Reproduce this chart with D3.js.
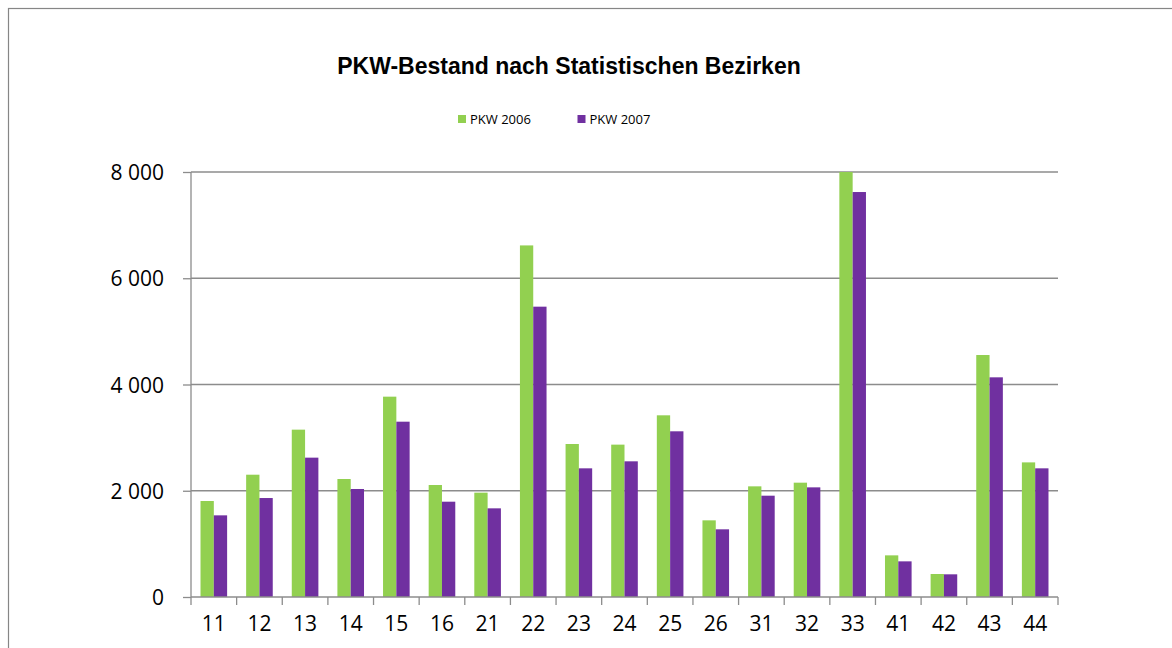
<!DOCTYPE html>
<html>
<head>
<meta charset="utf-8">
<script src="https://cdn.jsdelivr.net/npm/d3@7"></script>
<style>
  body { margin: 0; background: #fff; }
  svg { display: block; }
  .tick text { font-family: "Open Sans", sans-serif; fill: #000; }
</style>
</head>
<body>
<svg id="svg1" width="1172" height="648"></svg>
<script>
var bezirke = ["11", "12", "13", "14", "15", "16", "21", "22", "23", "24", "25", "26", "31", "32", "33", "41", "42", "43", "44"];
var pkw2006 = [1807, 2302, 3150, 2221, 3771, 2108, 1964, 6618, 2880, 2868, 3420, 1443, 2083, 2152, 8000, 784, 433, 4555, 2534];
var pkw2007 = [1537, 1863, 2623, 2033, 3300, 1794, 1669, 5465, 2422, 2554, 3119, 1274, 1907, 2064, 7623, 671, 427, 4135, 2422];
var seriesNames = ["PKW 2006", "PKW 2007"];
var yTicks = [0, 2000, 4000, 6000, 8000];

var colors = { "PKW 2006": "#92D050", "PKW 2007": "#7030A0" };

var svg = d3.select("#svg1");

// outer chart border
svg.append("rect")
    .attr("x", 8.5).attr("y", 8.5)
    .attr("width", 1180).attr("height", 700)
    .attr("fill", "none")
    .attr("stroke", "#868686")
    .attr("stroke-width", 1.2);

// plot area (note: "top" is reserved on window, so use other names)
var plotLeft = 191, plotRight = 1058, plotTop = 172, plotBottom = 597;

var x0 = d3.scaleBand().domain(bezirke).range([plotLeft, plotRight]).padding(0);
var x1 = d3.scaleBand().domain(seriesNames).range([0, x0.bandwidth()]).paddingInner(0).paddingOuter(0.715);
var y = d3.scaleLinear().domain([0, 8000]).range([plotBottom, plotTop]);

var fmt = function(d) { return d3.format(",")(d).replace(",", " "); };

// gridlines
svg.append("g")
    .selectAll("line")
    .data(yTicks.slice(1))
    .enter()
    .append("line")
      .attr("x1", plotLeft).attr("x2", plotRight)
      .attr("y1", function(d) { return y(d); })
      .attr("y2", function(d) { return y(d); })
      .attr("stroke", "#8c8c8c")
      .attr("stroke-width", 1.3);

// bars
var rows = bezirke.map(function(b, i) {
  return { bezirk: b, values: [{ key: "PKW 2006", v: pkw2006[i] }, { key: "PKW 2007", v: pkw2007[i] }] };
});

var groups = svg.append("g").selectAll(".grp")
    .data(rows)
    .enter()
    .append("g")
      .attr("class", "grp")
      .attr("transform", function(d) { return "translate(" + x0(d.bezirk) + ",0)"; });

groups.selectAll("rect")
    .data(function(d) { return d.values; })
    .enter()
    .append("rect")
      .attr("x", function(d) { return x1(d.key); })
      .attr("width", x1.bandwidth())
      .attr("y", function(d) { return y(d.v); })
      .attr("height", function(d) { return plotBottom - y(d.v); })
      .attr("fill", function(d) { return colors[d.key]; });

// y axis
var yAxis = svg.append("g")
    .attr("transform", "translate(" + plotLeft + ",0)")
    .call(d3.axisLeft(y).tickValues(yTicks).tickFormat(fmt).tickSize(8).tickPadding(19));
yAxis.selectAll("line, path").attr("stroke", "#8c8c8c").attr("stroke-width", 1.3);
yAxis.select(".domain").attr("d", "M0," + plotTop + "V" + plotBottom);
yAxis.selectAll(".tick text").attr("font-size", 21).attr("dy", "0.36em");

// x axis
var xAxis = svg.append("g")
    .attr("transform", "translate(0," + plotBottom + ")")
    .call(d3.axisBottom(x0).tickSize(0).tickPadding(19));
xAxis.select(".domain").attr("d", "M" + plotLeft + ",0H" + plotRight).attr("stroke", "#8c8c8c").attr("stroke-width", 1.3);
xAxis.selectAll(".tick text").attr("font-size", 21);

// x tick marks at band boundaries
svg.append("g")
    .selectAll("line")
    .data(bezirke.concat(["end"]))
    .enter()
    .append("line")
      .attr("x1", function(d, i) { return plotLeft + i * x0.step(); })
      .attr("x2", function(d, i) { return plotLeft + i * x0.step(); })
      .attr("y1", plotBottom).attr("y2", plotBottom + 8)
      .attr("stroke", "#8c8c8c")
      .attr("stroke-width", 1.3);

// title
svg.append("text")
    .attr("x", 569).attr("y", 74)
    .attr("text-anchor", "middle")
    .attr("font-family", "Liberation Sans, Arial, sans-serif")
    .attr("font-weight", "bold")
    .attr("font-size", 23)
    .text("PKW-Bestand nach Statistischen Bezirken");

// legend
var legend = svg.append("g").selectAll(".leg")
    .data(seriesNames)
    .enter()
    .append("g")
      .attr("class", "leg")
      .attr("transform", function(d, i) { return "translate(" + (458 + i * 119.5) + ",115)"; });

legend.append("rect")
    .attr("width", 8).attr("height", 8)
    .attr("fill", function(d) { return colors[d]; });

legend.append("text")
    .attr("x", 12).attr("y", 8.5)
    .attr("font-family", "Open Sans, sans-serif")
    .attr("font-size", 13)
    .text(function(d) { return d; });
</script>
</body>
</html>
